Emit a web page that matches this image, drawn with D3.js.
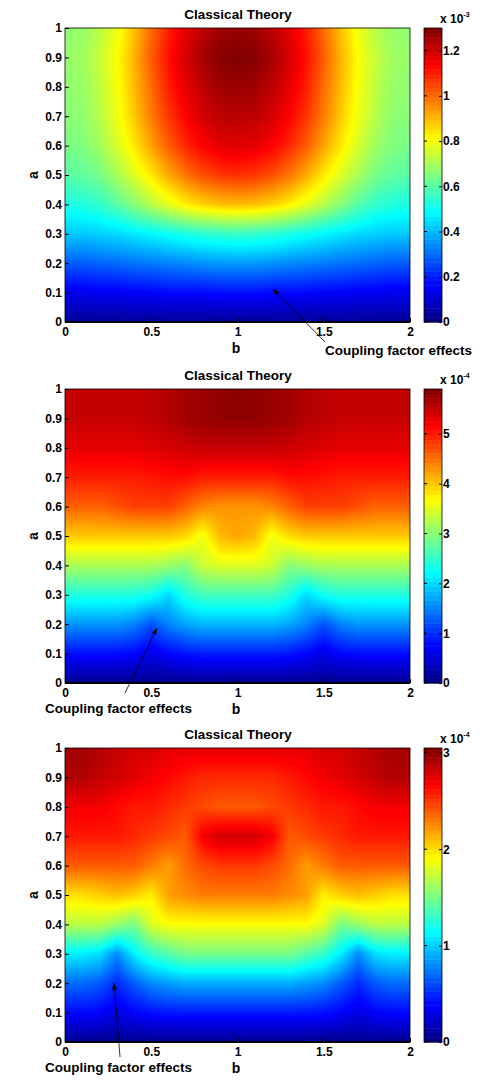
<!DOCTYPE html>
<html><head><meta charset="utf-8">
<script src="https://cdn.jsdelivr.net/npm/d3@7"></script>
<style>body{margin:0;background:#fff}text{font-family:"Liberation Sans",Arial,sans-serif;font-weight:bold}</style>
</head><body>
<svg id="c" width="503" height="1081"></svg>
<script>
const bValues = d3.range(21).map(i => i / 10);   // b = 0..2
const aValues = d3.range(11).map(i => i / 10);   // a = 0..1
const xTicks = [0, 0.5, 1, 1.5, 2];
const yTicks = [0, 0.1, 0.2, 0.3, 0.4, 0.5, 0.6, 0.7, 0.8, 0.9, 1];

// Panel 1 values (x 1e-3), rows a=0..1, cols b=0..2
const panel1 = [
[0.03,0.03,0.03,0.03,0.03,0.03,0.03,0.03,0.03,0.03,0.03,0.03,0.03,0.03,0.03,0.03,0.03,0.03,0.03,0.03,0.03],
[0.14,0.14,0.15,0.15,0.16,0.16,0.17,0.17,0.17,0.18,0.18,0.18,0.17,0.17,0.17,0.16,0.16,0.15,0.15,0.14,0.14],
[0.28,0.28,0.29,0.30,0.31,0.32,0.33,0.34,0.35,0.36,0.36,0.36,0.35,0.34,0.33,0.32,0.31,0.30,0.29,0.28,0.28],
[0.42,0.42,0.43,0.44,0.46,0.48,0.50,0.52,0.54,0.55,0.56,0.55,0.54,0.52,0.50,0.48,0.46,0.44,0.43,0.42,0.42],
[0.52,0.53,0.55,0.60,0.66,0.72,0.78,0.83,0.87,0.89,0.90,0.89,0.87,0.83,0.78,0.72,0.66,0.60,0.55,0.53,0.52],
[0.60,0.61,0.64,0.70,0.77,0.84,0.92,0.99,1.04,1.07,1.08,1.07,1.04,0.99,0.92,0.84,0.77,0.70,0.64,0.61,0.60],
[0.64,0.65,0.69,0.76,0.84,0.93,1.02,1.09,1.14,1.17,1.18,1.17,1.14,1.09,1.02,0.93,0.84,0.76,0.69,0.65,0.64],
[0.66,0.67,0.72,0.79,0.88,0.98,1.07,1.14,1.19,1.22,1.23,1.22,1.19,1.14,1.07,0.98,0.88,0.79,0.72,0.67,0.66],
[0.67,0.68,0.73,0.80,0.90,1.00,1.10,1.17,1.22,1.26,1.27,1.26,1.22,1.17,1.10,1.00,0.90,0.80,0.73,0.68,0.67],
[0.68,0.69,0.74,0.81,0.91,1.02,1.12,1.19,1.25,1.29,1.30,1.29,1.25,1.19,1.12,1.02,0.91,0.81,0.74,0.69,0.68],
[0.67,0.68,0.72,0.79,0.89,1.00,1.10,1.17,1.22,1.26,1.27,1.26,1.22,1.17,1.10,1.00,0.89,0.79,0.72,0.68,0.67]];

// Panel 2 values (x 1e-4)
const panel2 = [
[0.1,0.1,0.1,0.1,0.1,0.1,0.1,0.1,0.1,0.1,0.1,0.1,0.1,0.1,0.1,0.1,0.1,0.1,0.1,0.1,0.1],
[0.8,0.8,0.8,0.8,0.75,0.6,0.75,0.85,0.9,0.9,0.9,0.9,0.9,0.85,0.75,0.6,0.75,0.8,0.8,0.8,0.8],
[1.6,1.6,1.6,1.6,1.5,1.2,1.5,1.7,1.8,1.8,1.8,1.8,1.8,1.7,1.5,1.2,1.5,1.6,1.6,1.6,1.6],
[2.4,2.4,2.4,2.4,2.4,2.3,2.0,2.4,2.6,2.6,2.6,2.6,2.6,2.4,2.0,2.3,2.4,2.4,2.4,2.4,2.4],
[3.2,3.2,3.2,3.2,3.2,3.2,3.1,3.0,3.4,3.5,3.5,3.5,3.4,3.0,3.1,3.2,3.2,3.2,3.2,3.2,3.2],
[4.0,4.0,4.0,4.0,4.0,4.0,4.0,3.9,3.6,4.1,4.2,4.1,3.6,3.9,4.0,4.0,4.0,4.0,4.0,4.0,4.0],
[4.6,4.6,4.6,4.7,4.8,4.8,4.8,4.6,4.4,4.3,4.3,4.3,4.4,4.6,4.8,4.8,4.8,4.7,4.6,4.6,4.6],
[5.0,5.0,5.0,5.0,5.0,5.05,5.1,5.1,5.0,5.0,5.0,5.0,5.0,5.1,5.1,5.05,5.0,5.0,5.0,5.0,5.0],
[5.3,5.3,5.3,5.3,5.3,5.35,5.4,5.45,5.5,5.5,5.5,5.5,5.5,5.45,5.4,5.35,5.3,5.3,5.3,5.3,5.3],
[5.5,5.5,5.5,5.5,5.5,5.55,5.6,5.7,5.75,5.8,5.8,5.8,5.75,5.7,5.6,5.55,5.5,5.5,5.5,5.5,5.5],
[5.5,5.5,5.5,5.5,5.5,5.55,5.6,5.7,5.75,5.8,5.85,5.8,5.75,5.7,5.6,5.55,5.5,5.5,5.5,5.5,5.5]];

// Panel 3 values (x 1e-4)
const panel3 = [
[0.05,0.05,0.05,0.05,0.05,0.05,0.05,0.05,0.05,0.05,0.05,0.05,0.05,0.05,0.05,0.05,0.05,0.05,0.05,0.05,0.05],
[0.4,0.4,0.38,0.3,0.38,0.42,0.45,0.45,0.45,0.45,0.45,0.45,0.45,0.45,0.45,0.42,0.38,0.3,0.38,0.4,0.4],
[0.7,0.7,0.65,0.5,0.65,0.8,0.85,0.9,0.9,0.9,0.9,0.9,0.9,0.9,0.85,0.8,0.65,0.5,0.65,0.7,0.7],
[1.1,1.1,1.05,0.8,1.1,1.3,1.4,1.5,1.5,1.5,1.5,1.5,1.5,1.5,1.4,1.3,1.1,0.8,1.05,1.1,1.1],
[1.7,1.7,1.7,1.6,1.5,1.8,1.9,1.9,1.9,1.9,1.9,1.9,1.9,1.9,1.9,1.8,1.5,1.6,1.7,1.7,1.7],
[2.0,2.0,2.05,2.1,2.05,1.95,2.2,2.25,2.3,2.3,2.3,2.3,2.3,2.25,2.2,1.95,2.05,2.1,2.05,2.0,2.0],
[2.4,2.4,2.4,2.4,2.4,2.3,2.2,2.35,2.45,2.5,2.5,2.5,2.45,2.35,2.2,2.3,2.4,2.4,2.4,2.4,2.4],
[2.6,2.6,2.6,2.6,2.55,2.5,2.45,2.4,2.7,2.8,2.8,2.8,2.7,2.4,2.45,2.5,2.55,2.6,2.6,2.6,2.6],
[2.7,2.7,2.7,2.65,2.6,2.6,2.55,2.5,2.45,2.4,2.4,2.4,2.45,2.5,2.55,2.6,2.6,2.65,2.7,2.7,2.7],
[2.9,2.9,2.85,2.8,2.75,2.7,2.65,2.6,2.55,2.55,2.55,2.55,2.55,2.6,2.65,2.7,2.75,2.8,2.85,2.9,2.9],
[2.95,2.95,2.9,2.85,2.8,2.8,2.75,2.75,2.75,2.75,2.75,2.75,2.75,2.75,2.75,2.8,2.8,2.85,2.9,2.95,2.95]];

const cbMax = [1.30, 5.9, 3.05];
const cbTicks = [[0,0.2,0.4,0.6,0.8,1,1.2],[0,1,2,3,4,5],[0,1,2,3]];
const cbExp = ["-3","-4","-4"];

function jet(t){
  t=Math.max(0,Math.min(1,t));
  const r=Math.max(0,Math.min(1,1.5-Math.abs(4*t-3)));
  const g=Math.max(0,Math.min(1,1.5-Math.abs(4*t-2)));
  const b=Math.max(0,Math.min(1,1.5-Math.abs(4*t-1)));
  return [r*255,g*255,b*255];
}

const svg=d3.select("#c");
const panels=[
 {data:panel1,top:28,ann:{text:"Coupling factor effects",tx:325,ty:355,x1:325,y1:342,x2:273,y2:289}},
 {data:panel2,top:389,ann:{text:"Coupling factor effects",tx:45,ty:713,x1:125,y1:693,x2:157,y2:628}},
 {data:panel3,top:748,ann:{text:"Coupling factor effects",tx:45,ty:1072,x1:120,y1:1057,x2:114,y2:983}}];
const L=65,R=410,H=294,CBL=424,CBR=442;

panels.forEach((p,k)=>{
  const x=d3.scaleLinear().domain([0,2]).range([L,R]);
  const y=d3.scaleLinear().domain([0,1]).range([p.top+H,p.top]);
  const gx=d3.scaleLinear().domain([0,2]).range([0,bValues.length-1]);
  const gy=d3.scaleLinear().domain([0,1]).range([0,aValues.length-1]);
  const W=R-L;
  const cv=document.createElement("canvas");cv.width=W;cv.height=H;
  const ctx=cv.getContext("2d");const img=ctx.createImageData(W,H);
  for(let py=0;py<H;py++)for(let px=0;px<W;px++){
    const bv=x.invert(L+px+0.5), av=y.invert(p.top+py+0.5);
    let fi=gx(bv), fj=gy(av);
    let i0=Math.min(Math.floor(fi),bValues.length-2), j0=Math.min(Math.floor(fj),aValues.length-2);
    const u=fi-i0,v=fj-j0,d=p.data;
    const val=(d[j0][i0]*(1-u)+d[j0][i0+1]*u)*(1-v)+(d[j0+1][i0]*(1-u)+d[j0+1][i0+1]*u)*v;
    const c=jet(val/cbMax[k]);const o=(py*W+px)*4;
    img.data[o]=c[0];img.data[o+1]=c[1];img.data[o+2]=c[2];img.data[o+3]=255;
  }
  ctx.putImageData(img,0,0);
  svg.append("image").attr("x",L).attr("y",p.top).attr("width",W).attr("height",H).attr("href",cv.toDataURL());
  svg.append("rect").attr("x",L).attr("y",p.top).attr("width",W).attr("height",H).attr("fill","none").attr("stroke","#000").attr("stroke-width",0.8);
  svg.append("line").attr("x1",L).attr("x2",R).attr("y1",p.top+H).attr("y2",p.top+H).attr("stroke","#000").attr("stroke-width",2);
  svg.append("g").attr("transform",`translate(0,${p.top+H})`).call(d3.axisBottom(x).tickValues(xTicks).tickSize(-4).tickPadding(5).tickFormat(d3.format("")))
    .call(g=>{g.select(".domain").remove();g.selectAll("text").attr("font-size",12).attr("font-weight","bold");});
  svg.append("g").attr("transform",`translate(${L},0)`).call(d3.axisLeft(y).tickValues(yTicks).tickSize(-4).tickPadding(3).tickFormat(d3.format("")))
    .call(g=>{g.select(".domain").remove();g.selectAll("text").attr("font-size",12).attr("font-weight","bold");});
  svg.append("text").attr("x",238).attr("y",p.top-9).attr("text-anchor","middle").attr("font-size",13.5).text("Classical Theory");
  svg.append("text").attr("x",236).attr("y",p.top+H+31).attr("text-anchor","middle").attr("font-size",14).text("b");
  svg.append("text").attr("transform",`translate(38,${p.top+H/2}) rotate(-90)`).attr("text-anchor","middle").attr("font-size",14).attr("font-weight","normal").text("a");
  const cy=d3.scaleLinear().domain([0,cbMax[k]]).range([p.top+H,p.top]);
  const steps=d3.range(64);
  svg.append("g").selectAll("rect").data(steps).join("rect")
    .attr("x",CBL).attr("width",CBR-CBL)
    .attr("y",s=>cy(cbMax[k]*(s+1)/64)).attr("height",s=>cy(cbMax[k]*s/64)-cy(cbMax[k]*(s+1)/64)+0.5)
    .attr("fill",s=>{const c=jet((s+0.5)/64);return `rgb(${c[0]|0},${c[1]|0},${c[2]|0})`;});
  svg.append("rect").attr("x",CBL).attr("y",p.top).attr("width",CBR-CBL).attr("height",H).attr("fill","none").attr("stroke","#000").attr("stroke-width",0.8);
  const cg=svg.append("g").attr("transform",`translate(${CBR},0)`).call(d3.axisRight(cy).tickValues(cbTicks[k]).tickSize(-3).tickPadding(1).tickFormat(d3.format("")));
  cg.select(".domain").remove();cg.selectAll("text").attr("font-size",12).attr("font-weight","bold");
  svg.append("g").selectAll("line").data(cbTicks[k]).join("line").attr("x1",CBL).attr("x2",CBL+3).attr("y1",cy).attr("y2",cy).attr("stroke","#000");
  const ex=svg.append("text").attr("x",440).attr("y",p.top-5).attr("font-size",12);
  ex.append("tspan").text("x 10");
  ex.append("tspan").attr("dy",-6).attr("font-size",7).text(cbExp[k]);
  const a=p.ann;
  svg.append("text").attr("x",a.tx).attr("y",a.ty).attr("font-size",13.5).text(a.text);
  svg.append("line").attr("x1",a.x1).attr("y1",a.y1).attr("x2",a.x2).attr("y2",a.y2).attr("stroke","#000").attr("stroke-width",0.8);
  const ang=Math.atan2(a.y2-a.y1,a.x2-a.x1),h=7,w=0.35;
  const pts=[[a.x2,a.y2],[a.x2-h*Math.cos(ang-w),a.y2-h*Math.sin(ang-w)],[a.x2-h*Math.cos(ang+w),a.y2-h*Math.sin(ang+w)]];
  svg.append("polygon").attr("points",pts.map(q=>q.join(",")).join(" ")).attr("fill","#000");
});
</script>
</body></html>
